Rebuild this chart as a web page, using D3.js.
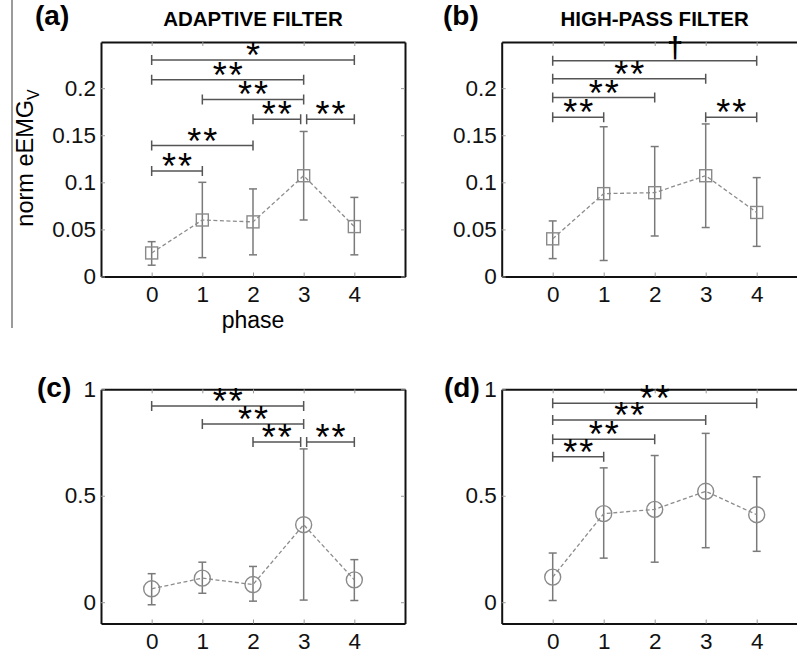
<!DOCTYPE html>
<html>
<head>
<meta charset="utf-8">
<script src="https://cdn.jsdelivr.net/npm/d3@7"></script>
<style>
  body { margin: 0; background: #fff; }
  svg { display: block; font-family: "Liberation Sans", Arial, sans-serif; }
</style>
</head>
<body>
<div id="my_dataviz"></div>
<script>
// phases on the x axis
var phases = [0, 1, 2, 3, 4];

// (a) adaptive filter, normalised eEMG_V
var meanA = [0.025, 0.060, 0.058, 0.107, 0.053];
var loA   = [0.012, 0.020, 0.023, 0.060, 0.023];
var hiA   = [0.037, 0.100, 0.093, 0.154, 0.084];

// (b) high-pass filter, normalised eEMG_V
var meanB = [0.040, 0.088, 0.089, 0.107, 0.068];
var loB   = [0.019, 0.017, 0.043, 0.052, 0.032];
var hiB   = [0.059, 0.159, 0.138, 0.162, 0.105];

// (c) adaptive filter, second measure
var meanC = [0.063, 0.113, 0.083, 0.364, 0.105];
var loC   = [-0.012, 0.042, 0.005, 0.010, 0.008];
var hiC   = [0.134, 0.188, 0.168, 0.720, 0.200];

// (d) high-pass filter, second measure
var meanD = [0.118, 0.416, 0.436, 0.521, 0.411];
var loD   = [0.008, 0.207, 0.188, 0.256, 0.239];
var hiD   = [0.231, 0.631, 0.689, 0.793, 0.589];

// significance brackets: from phase, to phase, level, mark
var sigA = [
  {from: 0, to: 4, y: 0.230, mark: "*"},
  {from: 0, to: 3, y: 0.209, mark: "**"},
  {from: 1, to: 3, y: 0.188, mark: "**"},
  {from: 2, to: 3, y: 0.167, mark: "**"},
  {from: 3, to: 4, y: 0.167, mark: "**"},
  {from: 0, to: 2, y: 0.139, mark: "**"},
  {from: 0, to: 1, y: 0.112, mark: "**"}
];
var sigB = [
  {from: 0, to: 4, y: 0.229, mark: "\u2020"},
  {from: 0, to: 3, y: 0.210, mark: "**"},
  {from: 0, to: 2, y: 0.190, mark: "**"},
  {from: 0, to: 1, y: 0.169, mark: "**"},
  {from: 3, to: 4, y: 0.169, mark: "**"}
];
var sigC = [
  {from: 0, to: 3, y: 0.921, mark: "**"},
  {from: 1, to: 3, y: 0.837, mark: "**"},
  {from: 2, to: 3, y: 0.753, mark: "**"},
  {from: 3, to: 4, y: 0.753, mark: "**"}
];
var sigD = [
  {from: 0, to: 4, y: 0.935, mark: "**"},
  {from: 0, to: 3, y: 0.856, mark: "**"},
  {from: 0, to: 2, y: 0.765, mark: "**"},
  {from: 0, to: 1, y: 0.683, mark: "**"}
];

var ticksSmall = [0, 0.05, 0.1, 0.15, 0.2];
var ticksLarge = [0, 0.5, 1];

var W = 797, H = 657;
var svg = d3.select("#my_dataviz")
  .append("svg")
    .attr("width", W)
    .attr("height", H);

// stray rule at the far left, left over from the cropped figure
svg.append("line")
  .attr("x1", 12).attr("x2", 12)
  .attr("y1", 0).attr("y2", 328)
  .attr("stroke", "#7a7a7a")
  .attr("stroke-width", 1.5);

var panels = [
  {tag: "(a)", title: "ADAPTIVE FILTER", mean: meanA, lo: loA, hi: hiA, sig: sigA,
   xr: [101, 405], yr: [276.5, 42], yd: [0, 0.249], ticks: ticksSmall, marker: "square",
   tagX: 35, tagY: 25, ylab: true, xlab: true},
  {tag: "(b)", title: "HIGH-PASS FILTER", mean: meanB, lo: loB, hi: hiB, sig: sigB,
   xr: [501.7, 807.7], yr: [276.5, 42], yd: [0, 0.249], ticks: ticksSmall, marker: "square",
   tagX: 443, tagY: 25},
  {tag: "(c)", mean: meanC, lo: loC, hi: hiC, sig: sigC,
   xr: [101, 405], yr: [623.5, 389.3], yd: [-0.1, 1], ticks: ticksLarge, marker: "circle",
   tagX: 37, tagY: 397},
  {tag: "(d)", mean: meanD, lo: loD, hi: hiD, sig: sigD,
   xr: [501.7, 807.7], yr: [623.5, 389.3], yd: [-0.1, 1], ticks: ticksLarge, marker: "circle",
   tagX: 444, tagY: 397}
];

panels.forEach(drawPanel);

function drawPanel(p) {
  var x = d3.scaleLinear().domain([-1, 5]).range(p.xr);
  var y = d3.scaleLinear().domain(p.yd).range(p.yr);
  var g = svg.append("g");

  // panel tag and title
  svg.append("text")
    .attr("x", p.tagX).attr("y", p.tagY)
    .attr("font-size", 28).attr("font-weight", "bold")
    .text(p.tag);
  if (p.title) {
    svg.append("text")
      .attr("x", x(2))
      .attr("y", 26)
      .attr("text-anchor", "middle")
      .attr("font-size", 20.5).attr("font-weight", "bold")
      .text(p.title);
  }

  // axes, ticks pointing inwards on all four sides
  var ax = [
    {a: d3.axisBottom(x).tickValues(phases).tickFormat(d3.format("d")).tickPadding(10), t: "translate(0," + p.yr[0] + ")"},
    {a: d3.axisTop(x).tickValues(phases).tickFormat(""), t: "translate(0," + p.yr[1] + ")"},
    {a: d3.axisLeft(y).tickValues(p.ticks).tickFormat(d3.format("")).tickPadding(5), t: "translate(" + p.xr[0] + ",0)"},
    {a: d3.axisRight(y).tickValues(p.ticks).tickFormat(""), t: "translate(" + p.xr[1] + ",0)"}
  ];
  ax.forEach(function(o) {
    var ag = g.append("g")
      .attr("transform", o.t)
      .call(o.a.tickSizeInner(-4).tickSizeOuter(0));
    ag.select(".domain").attr("stroke", "#111").attr("stroke-width", 2);
    ag.selectAll(".tick line").attr("stroke", "#999").attr("stroke-width", 1);
    ag.selectAll(".tick text")
      .attr("font-size", 22.5)
      .attr("font-family", "Liberation Sans, Arial, sans-serif")
      .attr("fill", "#111");
  });

  // error bars
  var eb = g.append("g").attr("stroke", "#7a7a7a").attr("stroke-width", 1.5);
  phases.forEach(function(ph, i) {
    eb.append("line")
      .attr("x1", x(ph)).attr("x2", x(ph))
      .attr("y1", y(p.lo[i])).attr("y2", y(p.hi[i]));
    [p.lo[i], p.hi[i]].forEach(function(v) {
      eb.append("line")
        .attr("x1", x(ph) - 4).attr("x2", x(ph) + 4)
        .attr("y1", y(v)).attr("y2", y(v));
    });
  });

  // dashed mean line
  var line = d3.line()
    .x(function(d, i) { return x(phases[i]); })
    .y(function(d) { return y(d); });
  g.append("path")
    .datum(p.mean)
    .attr("d", line)
    .attr("fill", "none")
    .attr("stroke", "#8c8c8c")
    .attr("stroke-width", 1.3)
    .attr("stroke-dasharray", "4,2.5");

  // markers
  var mk = g.append("g").attr("fill", "none").attr("stroke", "#8a8a8a").attr("stroke-width", 1.4);
  phases.forEach(function(ph, i) {
    if (p.marker === "square") {
      mk.append("rect")
        .attr("x", x(ph) - 6).attr("y", y(p.mean[i]) - 6)
        .attr("width", 12).attr("height", 12);
    } else {
      mk.append("circle")
        .attr("cx", x(ph)).attr("cy", y(p.mean[i]))
        .attr("r", 8);
    }
  });

  // significance brackets
  var sg = g.append("g");
  p.sig.forEach(function(s) {
    var x1 = x(s.from), x2 = x(s.to), yy = y(s.y);
    // brackets meeting at the same phase and level are pulled apart a little
    p.sig.forEach(function(o) {
      if (o !== s && o.y === s.y) {
        if (o.from === s.to) x2 -= 3;
        if (o.to === s.from) x1 += 3;
      }
    });
    sg.append("path")
      .attr("d", "M" + x1 + "," + (yy - 5) + "V" + (yy + 5) + "M" + x1 + "," + yy + "H" + x2 +
                 "M" + x2 + "," + (yy - 5) + "V" + (yy + 5))
      .attr("fill", "none")
      .attr("stroke", "#555")
      .attr("stroke-width", 1.5);
    if (s.mark === "\u2020") {
      sg.append("text")
        .attr("x", x(2.4)).attr("y", yy - 3)
        .attr("text-anchor", "middle")
        .attr("font-size", 29)
        .attr("font-weight", "bold")
        .text(s.mark);
    } else {
      sg.append("text")
        .attr("x", (x1 + x2) / 2 + 1).attr("y", yy + 8)
        .attr("text-anchor", "middle")
        .attr("font-size", 36)
        .attr("letter-spacing", 2)
        .text(s.mark);
    }
  });

  if (p.ylab) {
    var yl = svg.append("text")
      .attr("transform", "translate(33,158) rotate(-90)")
      .attr("text-anchor", "middle")
      .attr("font-size", 23.5);
    yl.append("tspan").text("norm eEMG");
    yl.append("tspan").attr("font-size", 16).attr("dy", 6).text("V");
  }
  if (p.xlab) {
    svg.append("text")
      .attr("x", x(2)).attr("y", 328)
      .attr("text-anchor", "middle")
      .attr("font-size", 23)
      .text("phase");
  }
}
</script>
</body>
</html>
